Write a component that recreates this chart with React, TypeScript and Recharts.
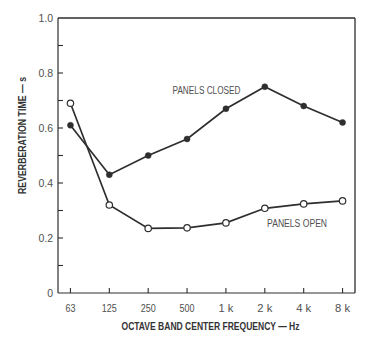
import React from 'react';
import { LineChart, Line, XAxis, YAxis, ReferenceDot, ReferenceLine } from 'recharts';

const categories = ['63', '125', '250', '500', '1 k', '2 k', '4 k', '8 k'];
const panelsClosed = [0.61, 0.43, 0.5, 0.56, 0.67, 0.75, 0.68, 0.62];
const panelsOpen = [0.69, 0.32, 0.235, 0.237, 0.255, 0.308, 0.324, 0.335];
const yTicks = [0, 0.1, 0.2, 0.3, 0.4, 0.5, 0.6, 0.7, 0.8, 0.9, 1.0];
const yTickLabels = ['0', '', '0.2', '', '0.4', '', '0.6', '', '0.8', '', '1.0'];
const seriesLabels = [
  { text: 'PANELS CLOSED', x: 3.5, y: 0.738, width: 68 },
  { text: 'PANELS OPEN', x: 5.83, y: 0.251, width: 60 },
];
const xTitle = 'OCTAVE BAND CENTER FREQUENCY — Hz';
const yTitle = 'REVERBERATION TIME — s';
const xDomain: [number, number] = [-0.32, 7.32];
const yDomain: [number, number] = [0, 1];

const data = categories.map((c, i) => ({ i, closed: panelsClosed[i], open: panelsOpen[i] }));

const FONT = "'Liberation Sans', Arial, sans-serif";
const TEXT = '#505050';
const INK = '#2e2e2e';
const TICK_LEN = 5;

const OpenDot = (p: any) => (
  <circle cx={p.cx} cy={p.cy} r={3.2} fill="#fff" stroke={INK} strokeWidth={1.2} />
);
const ClosedDot = (p: any) => <circle cx={p.cx} cy={p.cy} r={3} fill={INK} stroke={INK} strokeWidth={0.5} />;

const XTick = (p: any) => {
  const label = categories[p.payload.value] ?? '';
  const axisY = p.y - 12;
  return (
    <g>
      <line x1={p.x} x2={p.x} y1={axisY} y2={axisY - TICK_LEN} stroke={INK} strokeWidth={1.1} />
      <text x={p.x} y={p.y} dy="0.71em" textAnchor="middle" fill={TEXT} fontSize={10.5} fontFamily={FONT} textLength={label.length > 2 ? 15 : 10} lengthAdjust="spacingAndGlyphs">
        {label}
      </text>
    </g>
  );
};

const YTick = (p: any) => {
  const v = p.payload.value;
  const label = yTickLabels[yTicks.findIndex((t) => Math.abs(t - v) < 1e-9)] ?? '';
  const axisX = p.x + 5;
  return (
    <g>
      {v > 0 && v < 1 && (
        <line x1={axisX} x2={axisX + TICK_LEN} y1={p.y} y2={p.y} stroke={INK} strokeWidth={1.1} />
      )}
      {label && (
        <text x={p.x} y={p.y} dy="0.355em" textAnchor="end" fill={TEXT} fontSize={10.5} fontFamily={FONT}>
          {label}
        </text>
      )}
    </g>
  );
};

export default function App() {
  return (
    <div style={{ position: 'absolute', left: 0, top: 0, background: '#fff' }}>
      <LineChart width={366} height={338} data={data} margin={{ top: 18, right: 11, bottom: 0, left: 0 }}>
        <XAxis
          dataKey="i"
          type="number"
          domain={xDomain}
          ticks={categories.map((_, i) => i)}
          interval={0}
          height={45}
          tickSize={0}
          tickMargin={12}
          tickLine={false}
          stroke={INK}
          strokeWidth={1.2}
          tick={<XTick />}
          label={{
            content: (props: any) => {
              const vb = props.viewBox;
              return (
                <text
                  x={vb.x + vb.width / 2 + 4}
                  y={vb.y + 34}
                  textAnchor="middle"
                  dominantBaseline="middle"
                  fill="#333"
                  fontSize={10}
                  fontWeight="bold"
                  fontFamily={FONT}
                  textLength={178}
                  lengthAdjust="spacingAndGlyphs"
                >
                  {xTitle}
                </text>
              );
            },
          }}
        />
        <YAxis
          domain={yDomain}
          ticks={yTicks}
          interval={0}
          width={58}
          tickSize={0}
          tickMargin={5}
          tickLine={false}
          stroke={INK}
          strokeWidth={1.2}
          tick={<YTick />}
          label={{
            content: (props: any) => {
              const vb = props.viewBox;
              const x = vb.x + 23;
              const y = vb.y + vb.height / 2 - 20;
              return (
                <text
                  x={x}
                  y={y}
                  transform={`rotate(-90, ${x}, ${y})`}
                  textAnchor="middle"
                  dominantBaseline="middle"
                  fill="#333"
                  fontSize={10}
                  fontWeight="bold"
                  fontFamily={FONT}
                  textLength={117}
                  lengthAdjust="spacingAndGlyphs"
                >
                  {yTitle}
                </text>
              );
            },
          }}
        />
        <ReferenceLine y={yDomain[1]} stroke={INK} strokeWidth={1.3} />
        <ReferenceLine x={xDomain[1]} stroke={INK} strokeWidth={1.3} />
        <Line dataKey="closed" stroke={INK} strokeWidth={1.7} dot={<ClosedDot />} isAnimationActive={false} />
        <Line dataKey="open" stroke={INK} strokeWidth={1.7} dot={<OpenDot />} isAnimationActive={false} />
        {seriesLabels.map((s) => (
          <ReferenceDot
            key={s.text}
            x={s.x}
            y={s.y}
            r={0}
            stroke="none"
            fill="none"
            label={{
              content: (props: any) => {
                const vb = props.viewBox;
                const cx = vb.x + (vb.width || 0) / 2;
                const cy = vb.y + (vb.height || 0) / 2;
                return (
                  <text x={cx} y={cy} textAnchor="middle" dominantBaseline="central" fill={TEXT} fontSize={10} fontFamily={FONT} textLength={s.width} lengthAdjust="spacingAndGlyphs">
                    {s.text}
                  </text>
                );
              },
            }}
          />
        ))}
      </LineChart>
    </div>
  );
}
